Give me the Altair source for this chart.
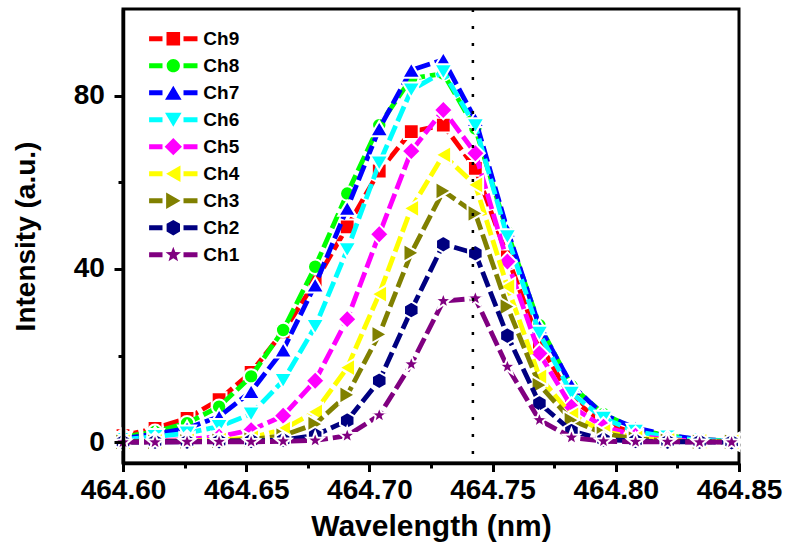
import math
import altair as alt
import pandas as pd

# ---------------- data ----------------
wavelength_nm = [464.600, 464.613, 464.626, 464.639, 464.652, 464.665, 464.678,
                 464.691, 464.704, 464.717, 464.730, 464.743, 464.756, 464.769,
                 464.782, 464.795, 464.808, 464.821, 464.834, 464.847]

ch9 = [1.5, 3.2, 5.5, 9.8, 16.1, 25.5, 37.0, 49.7, 62.6, 71.7, 73.2, 63.2, 42.8, 22.9, 10.0, 4.5, 2.0, 1.0, 0.5, 0.2]
ch8 = [1.2, 2.4, 4.4, 8.2, 15.2, 25.9, 40.5, 57.4, 73.2, 84.0, 85.1, 72.4, 48.5, 27.0, 13.0, 6.5, 3.0, 1.5, 0.6, 0.3]
ch7 = [0.8, 1.9, 3.2, 5.9, 11.7, 21.3, 36.3, 54.0, 72.4, 85.9, 88.3, 74.5, 49.0, 26.7, 13.2, 6.3, 3.3, 1.7, 0.6, 0.3]
ch6 = [0.6, 1.3, 2.1, 3.6, 6.5, 14.2, 26.7, 44.4, 64.4, 81.3, 85.5, 73.0, 47.4, 25.1, 11.3, 5.5, 2.5, 1.2, 0.5, 0.2]
ch5 = [0.2, 0.3, 0.6, 1.3, 2.8, 6.1, 14.2, 28.4, 48.0, 67.2, 76.7, 66.7, 41.7, 20.5, 8.2, 3.6, 1.5, 0.6, 0.3, 0.1]
ch4 = [0.1, 0.2, 0.3, 0.5, 1.0, 3.0, 7.0, 17.2, 34.2, 54.0, 66.3, 59.4, 35.9, 15.1, 6.3, 2.5, 1.0, 0.4, 0.2, 0.1]
ch3 = [0.1, 0.1, 0.2, 0.3, 0.6, 1.5, 4.2, 10.9, 24.9, 43.7, 58.0, 52.8, 31.3, 13.2, 5.1, 2.0, 0.8, 0.3, 0.1, 0.1]
ch2 = [0.0, 0.1, 0.1, 0.2, 0.3, 0.5, 1.6, 5.0, 14.2, 30.5, 45.7, 43.6, 24.6, 9.0, 2.6, 0.6, 0.3, 0.1, 0.1, 0.0]
ch1 = [0.0, 0.0, 0.1, 0.1, 0.1, 0.2, 0.4, 1.5, 6.2, 18.0, 32.6, 33.2, 17.4, 5.1, 1.1, 0.2, 0.1, 0.1, 0.0, 0.0]

channels = ["Ch9", "Ch8", "Ch7", "Ch6", "Ch5", "Ch4", "Ch3", "Ch2", "Ch1"]
series = [ch9, ch8, ch7, ch6, ch5, ch4, ch3, ch2, ch1]
colors = ["#FF0000", "#00FF00", "#0000FF", "#00FFFF", "#FF00FF",
          "#FFFF00", "#808000", "#000080", "#800080"]
markers = ["square", "circle", "tri_up", "tri_down", "diamond",
           "tri_left", "tri_right", "hexagon", "star"]

x_ticks = [464.60, 464.65, 464.70, 464.75, 464.80, 464.85]
x_minor = [464.625, 464.675, 464.725, 464.775, 464.825]
y_ticks = [0, 40, 80]
y_minor = [20, 60]
x_domain = [464.60, 464.85]
y_domain = [-4.8, 100]
dotted_at = [464.742]

FONT = "Liberation Sans"

# ---------------- marker geometry (style only) ----------------
def _poly(pts, s):
    return "M" + "L".join(f"{x / s:.4f},{y / s:.4f}" for x, y in pts) + "Z"


def _circle(r, s):
    r = r / s
    return f"M{r:.4f},0A{r:.4f},{r:.4f} 0 1,1 {-r:.4f},0A{r:.4f},{r:.4f} 0 1,1 {r:.4f},0Z"


def _shape(kind, s, k=1.0):
    if kind == "square":
        h = 7.4 * k
        return _poly([(-h, -h), (h, -h), (h, h), (-h, h)], s)
    if kind == "circle":
        return _circle(7.2 * k, s)
    if kind == "tri_up":
        w, h = 9.0 * k, 7.6 * k
        return _poly([(0, -h), (w, h), (-w, h)], s)
    if kind == "tri_down":
        w, h = 9.0 * k, 7.6 * k
        return _poly([(0, h), (w, -h), (-w, -h)], s)
    if kind == "diamond":
        h = 9.4 * k
        return _poly([(0, -h), (h, 0), (0, h), (-h, 0)], s)
    if kind == "tri_left":
        w, h = 7.8 * k, 9.0 * k
        return _poly([(-w, 0), (w, -h), (w, h)], s)
    if kind == "tri_right":
        w, h = 7.8 * k, 9.0 * k
        return _poly([(w, 0), (-w, -h), (-w, h)], s)
    if kind == "hexagon":
        r = 8.4 * k
        return _poly([(r * math.cos(math.radians(-90 + 60 * i)),
                       r * math.sin(math.radians(-90 + 60 * i))) for i in range(6)], s)
    if kind == "star":
        R, r = 8.8 * k, 3.7 * k
        pts = []
        for i in range(10):
            a = math.radians(-90 + 36 * i)
            rr = R if i % 2 == 0 else r
            pts.append((rr * math.cos(a), rr * math.sin(a)))
        return _poly(pts, s)
    raise ValueError(kind)


PLOT_UNIT = 7.0           # px per path unit for size 196
PLOT_SIZE = 196
LEG_UNIT = 25.0           # px per path unit for size 2500
LEG_SIZE = 2500


def _legend_symbol(kind):
    dash = 2.6
    left = _poly([(-24.2, -dash), (-10.8, -dash), (-10.8, dash), (-24.2, dash)], LEG_UNIT)
    right = _poly([(10.2, -dash), (24.2, -dash), (24.2, dash), (10.2, dash)], LEG_UNIT)
    return left + right + _shape(kind, LEG_UNIT, 0.92)


legend_paths = [_legend_symbol(m) for m in markers]

# ---------------- table ----------------
rows = []
for name, vals in zip(channels, series):
    for wl, v in zip(wavelength_nm, vals):
        rows.append({"wl": wl, "val": v, "ch": name})
df = pd.DataFrame(rows)

xs = alt.Scale(domain=x_domain, nice=False, zero=False)
ys = alt.Scale(domain=y_domain, nice=False, zero=False)

layers = []
for name, color, m in zip(channels, colors, markers):
    base = alt.Chart(df).transform_filter(alt.datum.ch == name)
    enc = dict(x=alt.X("wl:Q", scale=xs, axis=None),
               y=alt.Y("val:Q", scale=ys, axis=None))
    line = base.mark_line(color=color, strokeWidth=4.8, strokeDash=[16, 5],
                          strokeCap="butt", strokeJoin="round").encode(**enc)
    pts = base.mark_point(shape=_shape(m, PLOT_UNIT), filled=True, fill=color,
                          stroke="white", strokeWidth=2, size=PLOT_SIZE,
                          opacity=1).encode(**enc)
    layers += [line, pts]

# dotted reference line
dotted = alt.Chart(pd.DataFrame({"x": dotted_at})).mark_rule(
    color="black", strokeWidth=2.5, strokeDash=[3, 14], strokeCap="butt"
).encode(
    x=alt.X("x:Q", scale=xs, axis=None),
    y=alt.YDatum(y_domain[1], scale=ys, axis=None),
    y2=alt.Y2Datum(y_domain[0]),
)

legend_props = dict(orient="none", legendX=25.3, legendY=16.6, title=None,
                    clipHeight=26.25, rowPadding=0, labelOffset=5, padding=0,
                    symbolSize=LEG_SIZE, symbolStrokeWidth=0, symbolOpacity=1,
                    labelFont=FONT, labelFontSize=19, labelFontWeight="bold",
                    labelColor="black")

# legend carrier (invisible marks)
legend_layer = alt.Chart(df).mark_point(filled=True, opacity=0, size=LEG_SIZE).encode(
    x=alt.X("wl:Q", scale=xs, axis=None),
    y=alt.Y("val:Q", scale=ys, axis=None),
    color=alt.Color("ch:N", scale=alt.Scale(domain=channels, range=colors),
                    legend=alt.Legend(**legend_props)),
    shape=alt.Shape("ch:N", scale=alt.Scale(domain=channels, range=legend_paths),
                    legend=alt.Legend(**legend_props)),
)

major_x = alt.Axis(orient="bottom", values=x_ticks, format=".2f", title="Wavelength (nm)",
                   domainColor="black", domainWidth=3.5, tickColor="black", tickWidth=3,
                   tickSize=8.5, labelFont=FONT, labelFontSize=28, labelFontWeight="bold",
                   labelColor="black", labelPadding=5, labelFlush=False, labelOverlap=False,
                   titleFont=FONT, titleFontSize=30, titleFontWeight="bold",
                   titleColor="black", titleBaseline="alphabetic", titleY=72,
                   titleX=308, grid=False, zindex=1)
major_y = alt.Axis(orient="left", values=y_ticks, title="Intensity (a.u.)",
                   domainColor="black", domainWidth=3.5, tickColor="black", tickWidth=3,
                   tickSize=9, labelFont=FONT, labelFontSize=28, labelFontWeight="bold",
                   labelColor="black", labelPadding=9.7, labelFlush=False,
                   labelOverlap=False, titleFont=FONT, titleFontSize=28,
                   titleFontWeight="bold", titleColor="black", titleAngle=270,
                   titleBaseline="alphabetic", titleAlign="center", titleX=-88.7,
                   titleY=227, grid=False, zindex=1)
minor_x = alt.Axis(orient="bottom", values=x_minor, labels=False, domain=False,
                   tickColor="black", tickWidth=3, tickSize=5, title="", grid=False, zindex=1)
minor_y = alt.Axis(orient="left", values=y_minor, labels=False, domain=False,
                   tickColor="black", tickWidth=3, tickSize=5, title="", grid=False, zindex=1)

axes_major = alt.Chart(df).mark_point(opacity=0).encode(
    x=alt.X("wl:Q", scale=xs, axis=major_x), y=alt.Y("val:Q", scale=ys, axis=major_y))
axes_minor = alt.Chart(df).mark_point(opacity=0).encode(
    x=alt.X("wl:Q", scale=xs, axis=minor_x), y=alt.Y("val:Q", scale=ys, axis=minor_y))

chart = alt.layer(*layers, dotted, legend_layer, axes_major, axes_minor).resolve_axis(
    x="independent", y="independent"
).properties(
    width=616, height=454,
    autosize=alt.AutoSizeParams(type="none"),
    padding={"left": 123, "top": 9, "right": 51, "bottom": 86},
    background="white",
).configure_view(stroke="black", strokeWidth=3)

chart.save("out.html", embed_options={"renderer": "svg", "actions": False})
